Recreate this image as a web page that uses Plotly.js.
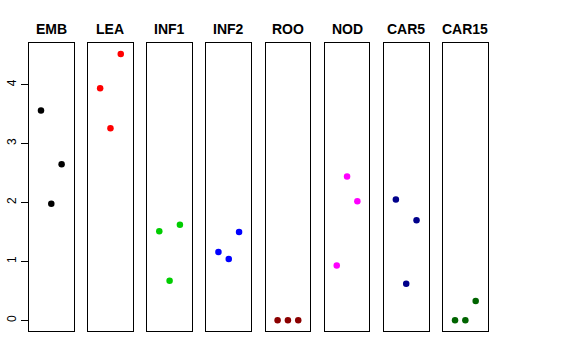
<!DOCTYPE html>
<html>
<head>
<meta charset="utf-8">
<script src="https://cdn.plot.ly/plotly-3.0.1.min.js"></script>
<style>html,body{margin:0;padding:0;background:#fff;}#chart{width:576px;height:360px;}</style>
</head>
<body>
<div id="chart"></div>
<script>
var categories = ["EMB", "LEA", "INF1", "INF2", "ROO", "NOD", "CAR5", "CAR15"];
var colors = ["#000000", "#FF0000", "#00CD00", "#0000FF", "#8B0000", "#FF00FF", "#00008B", "#006400"];
var xIndex = [1, 2, 3];
var EMB = [3.56, 1.98, 2.65];
var LEA = [3.94, 3.26, 4.52];
var INF1 = [1.51, 0.67, 1.62];
var INF2 = [1.16, 1.04, 1.50];
var ROO = [0.0, 0.0, 0.0];
var NOD = [0.93, 2.44, 2.02];
var CAR5 = [2.05, 0.62, 1.70];
var CAR15 = [0.0, 0.0, 0.33];
var yTicks = [0, 1, 2, 3, 4];

var series = [EMB, LEA, INF1, INF2, ROO, NOD, CAR5, CAR15];

var all = [].concat.apply([], series);
var ymin = Math.min.apply(null, all), ymax = Math.max.apply(null, all);
var pad = (ymax - ymin) * 0.04;
var yRange = [ymin - pad, ymax + pad];
var xPad = (4 - 0) * 0.04;
var xRange = [0 - xPad, 4 + xPad];

var W = 576, H = 360;
var panelLeft = 29, panelStep = 59.15, panelW = 44.6;
var yDom = [(H - 331) / H, (H - 43.3) / H];

var traces = [];
var layout = {
  width: W, height: H,
  margin: {l: 0, r: 0, t: 0, b: 0},
  paper_bgcolor: "#fff", plot_bgcolor: "#fff",
  showlegend: false,
  annotations: []
};

categories.forEach(function (cat, i) {
  var n = i === 0 ? "" : String(i + 1);
  traces.push({
    type: "scatter", mode: "markers",
    x: xIndex, y: series[i],
    xaxis: "x" + n, yaxis: "y" + n,
    marker: {color: colors[i], size: 6.5},
    hoverinfo: "none"
  });
  var l = panelLeft + panelStep * i;
  layout["xaxis" + n] = {
    domain: [l / W, (l + panelW) / W],
    range: xRange, showgrid: false, zeroline: false,
    showticklabels: false, ticks: "",
    showline: true, mirror: true, linecolor: "#000", linewidth: 1,
    anchor: "y" + n, fixedrange: true
  };
  layout["yaxis" + n] = {
    domain: yDom,
    range: yRange, showgrid: false, zeroline: false,
    showline: true, mirror: true, linecolor: "#000", linewidth: 1,
    anchor: "x" + n, fixedrange: true,
    tickmode: "array", tickvals: i === 0 ? yTicks : [],
    ticktext: i === 0 ? yTicks.map(String) : [],
    showticklabels: i === 0,
    ticks: i === 0 ? "outside" : "", ticklen: 7, tickcolor: "#000",
    tickangle: -90,
    tickfont: {family: "Liberation Sans, Arial, sans-serif", size: 12, color: "#000"}
  };
  layout.annotations.push({
    text: "<b>" + cat + "</b>",
    xref: "paper", yref: "paper",
    x: (l + panelW / 2) / W, y: (H - 28.5) / H,
    xanchor: "center", yanchor: "middle",
    showarrow: false,
    font: {family: "Liberation Sans, Arial, sans-serif", size: 14, color: "#000"}
  });
});

Plotly.newPlot("chart", traces, layout, {staticPlot: true, displayModeBar: false});
</script>
</body>
</html>
